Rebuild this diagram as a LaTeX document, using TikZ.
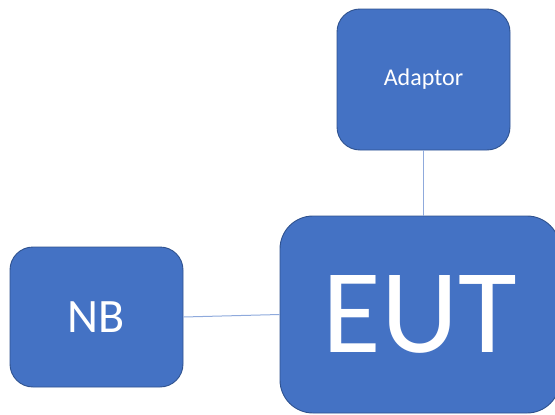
\documentclass[tikz,border=0pt]{standalone}
\usepackage{fontspec}
\setmainfont{Carlito}
\usepackage{tikz}
\definecolor{boxfill}{HTML}{4472C4}
\definecolor{boxline}{HTML}{2F528F}
\definecolor{wireblue}{HTML}{8FAADC}

\begin{document}
\begin{tikzpicture}[x=1pt,y=-1pt]
    \tikzstyle{every node}=[font=\small]
    \tikzstyle{unit}=[draw=boxline,fill=boxfill,line width=0.9pt,text=white,
    rounded corners=23pt,inner sep=0pt]
    \tikzstyle{wire}=[draw=wireblue,line width=1pt]
    \useasboundingbox (0,0) rectangle (555,415);

    \node[unit,minimum width=173pt,minimum height=141pt,
    font=\fontsize{24}{28}\selectfont] (adaptor) at (423.5,79.5) {Adaptor};

    \node[unit,minimum width=173pt,minimum height=140pt,
    font=\fontsize{48}{56}\selectfont] (nb) at (96.5,317) {NB};

    \node[unit,minimum width=280pt,minimum height=197pt,rounded corners=33pt,
    font=\fontsize{120}{140}\selectfont] (eut) at (420,314.5) {EUT};

    \draw[wire] (adaptor.south) -- (adaptor.south |- eut.north);
    \draw[wire] (nb.east) -- (eut.west);

\end{tikzpicture}
\end{document}
